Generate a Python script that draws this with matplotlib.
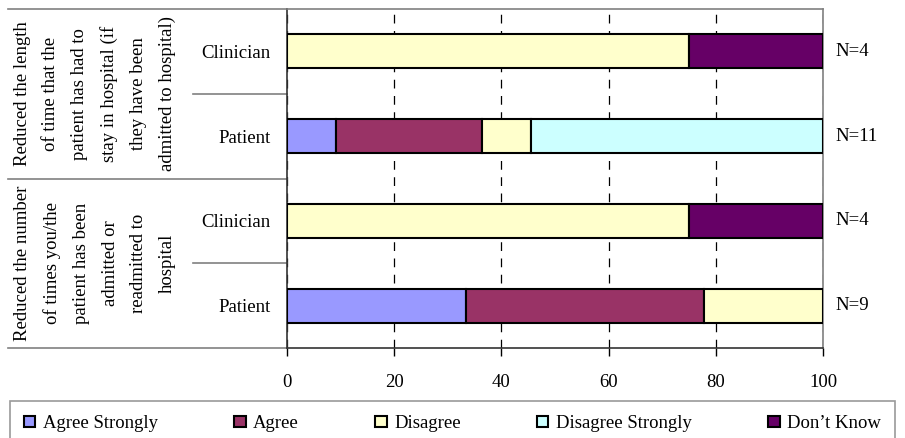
import matplotlib
matplotlib.use("Agg")
import matplotlib.pyplot as plt
import matplotlib.transforms as mtransforms
import numpy as np

plt.rcParams['font.family'] = ['Liberation Serif', 'DejaVu Serif']

bar_labels = ["Clinician", "Patient", "Clinician", "Patient"]
n_labels = ["N=4", "N=11", "N=4", "N=9"]
group_labels = [
    "Reduced the length\nof time that the\npatient has had to\nstay in hospital (if\nthey have been\nadmitted to hospital)",
    "Reduced the number\nof times you/the\npatient has been\nadmitted or\nreadmitted to\nhospital",
]

series_names = ["Agree Strongly", "Agree", "Disagree", "Disagree Strongly", "Don\u2019t Know"]
agree_strongly = [0, 9.09, 0, 33.33]
agree = [0, 27.27, 0, 44.44]
disagree = [75, 9.09, 75, 22.22]
disagree_strongly = [0, 54.55, 0, 0]
dont_know = [25, 0, 25, 0]
colors = ["#9999FF", "#993366", "#FFFFCC", "#CCFFFF", "#660066"]

fs = 13.5

fig = plt.figure(figsize=(9.05, 4.38), dpi=100)
ax = fig.add_axes([287/905, 1-348/438, 536/905, 339/438])

y = np.arange(len(bar_labels))
left = np.zeros(len(bar_labels))
handles = []
for name, vals, c in zip(series_names, [agree_strongly, agree, disagree, disagree_strongly, dont_know], colors):
    vals = np.array(vals, dtype=float)
    m = vals > 0
    b = ax.barh(y[m], vals[m], left=left[m], height=0.4, color=c,
                edgecolor="black", linewidth=1.5, zorder=3, label=name)
    handles.append(b)
    left += vals

ax.set_xlim(0, 100)
ax.set_ylim(3.5, -0.5)
ax.set_xticks([0, 20, 40, 60, 80, 100])
ax.set_yticks(y)
ax.set_yticklabels(bar_labels, fontsize=fs)
ax.tick_params(axis="y", length=0, pad=12)
ax.tick_params(axis="x", direction="out", length=6, width=1, pad=13, labelsize=fs)
ax.xaxis.grid(True, linestyle=(0, (7, 6)), color="black", linewidth=0.9, zorder=1)
ax.set_axisbelow(True)

for s in ["top", "right"]:
    ax.spines[s].set_color("#808080")
    ax.spines[s].set_linewidth(1.2)
for s in ["left", "bottom"]:
    ax.spines[s].set_color("#333333")
    ax.spines[s].set_linewidth(1.2)

trans = mtransforms.blended_transform_factory(ax.transAxes, ax.transData)
x_far = (8 - 287) / 536
x_mid = (193 - 287) / 536
for yy in [-0.5, 1.5, 3.5]:
    ax.plot([x_far, 0], [yy, yy], transform=trans, color="#808080", lw=1.2, clip_on=False)
for yy in [0.5, 2.5]:
    ax.plot([x_mid, 0], [yy, yy], transform=trans, color="#808080", lw=1.2, clip_on=False)

for yy, txt in zip([0.5, 2.5], group_labels):
    ax.text((95 - 287) / 536, yy, txt, transform=trans, rotation=90, ha="center",
            va="center", multialignment="center", fontsize=fs, linespacing=1.9)

for yy, txt in zip(y, n_labels):
    ax.text(1.024, yy, txt, transform=trans, ha="left", va="center", fontsize=fs)

leg = fig.legend(handles=handles, labels=series_names, loc="upper left",
                 bbox_to_anchor=(10/905, 1 - 401/438, 885/905, 0.0), mode="expand",
                 ncol=5, fontsize=fs, frameon=True, fancybox=False, borderpad=0.75,
                 handlelength=0.6, handleheight=0.6, handletextpad=0.4, borderaxespad=0)
leg.get_frame().set_edgecolor("#808080")
leg.get_frame().set_linewidth(1.2)

fig.savefig("out.png", dpi=100)
